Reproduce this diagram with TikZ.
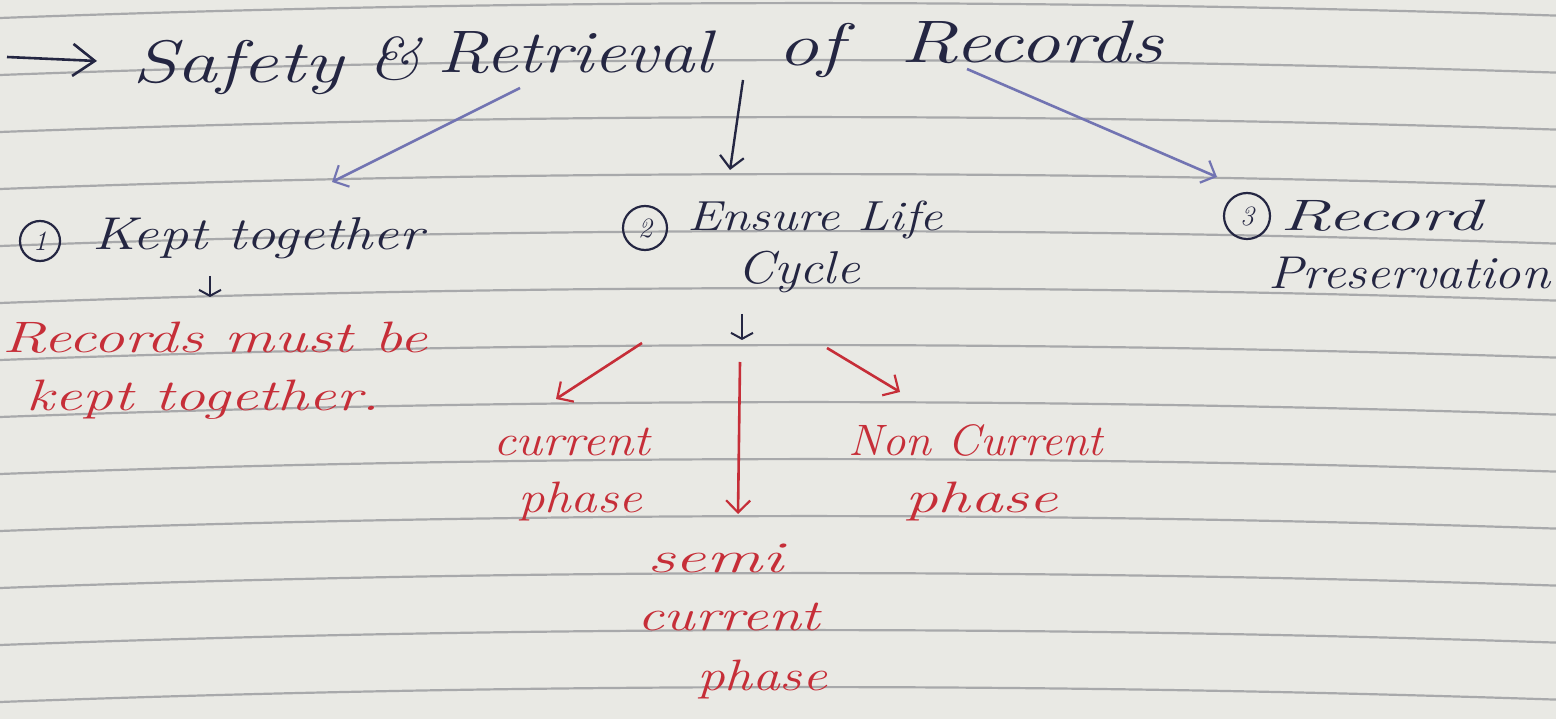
\documentclass[tikz,border=0pt]{standalone}
\usepackage{fontspec}
\usepackage{graphicx}
\usetikzlibrary{arrows.meta}
\definecolor{paper}{RGB}{233,233,228}
\definecolor{rule}{RGB}{168,169,171}
\definecolor{navy}{RGB}{36,38,66}
\definecolor{redink}{RGB}{198,46,56}
\definecolor{lavender}{RGB}{114,116,178}
% hand-lettering: italic at a given size, stretched to a given width
\newcommand{\handsize}[1]{\fontsize{#1}{#1}\selectfont\itshape}
\newcommand{\fitw}[2]{\resizebox{#1pt}{\height}{#2}}
\tikzset{
  ruling/.style={rule, line width=2.2pt},
  word/.style={anchor=base west, inner sep=0pt, outer sep=0pt},
  titleword/.style={word, navy, font=\handsize{60}},
  itemword/.style={word, navy, font=\handsize{46}},
  noteword/.style={word, redink, font=\handsize{44}},
  numcircle/.style={circle, draw=navy, line width=2.2pt, navy, inner sep=0pt,
    minimum size=#1pt, font=\handsize{28}},
  tip/.style={-{Straight Barb[length=12pt, width=24pt, line width=2.2pt]}},
  bigtip/.style={-{Straight Barb[length=22pt, width=32pt, line width=2.6pt]}},
  smalltip/.style={-{Straight Barb[length=6pt, width=22pt, line width=2pt]}},
  navyarrow/.style={tip, navy, line width=2.4pt},
  lavarrow/.style={tip, lavender, line width=2.6pt},
  redarrow/.style={tip, redink, line width=2.6pt},
}
\begin{document}
\begin{tikzpicture}[x=1pt, y=-1pt]
  % sheet of ruled paper
  \useasboundingbox (0,0) rectangle (1556,719);
  \fill[paper] (0,0) rectangle (1556,719);
  \foreach \n in {0,...,12} {
    \pgfmathsetmacro\yb{3+57*\n}
    \draw[ruling] (0,\yb+15) .. controls (519,\yb-4.2) and (1037,\yb-4.7) .. (1556,\yb+12.6);
  }

  % heading
  \coordinate (lead) at (7,57);
  \node[titleword] (t1) at (132,83) {\fitw{211}{Safety}};
  \node[titleword] (t2) at (368,80) {\fitw{52}{\&}};
  \node[titleword] (t3) at (437,73) {\fitw{276}{Retrieval}};
  \node[titleword] (t4) at (777,66) {\fitw{66}{of}};
  \node[titleword] (t5) at (900,63) {\fitw{263}{Records}};
  \draw[bigtip, navy, line width=2.6pt] (lead) -- ([shift={(-35,-22)}]t1.base west);

  % three branches
  \node[numcircle=40] (n1) at (40,241) {1};
  \node[itemword] (i1) at (92,250) {\fitw{331}{Kept together}};
  \node[numcircle=44] (n2) at (645,228) {2};
  \node[itemword, font=\handsize{42}] (i2a) at (687,231) {\fitw{256}{Ensure Life}};
  \node[itemword] (i2b) at (737,284) {\fitw{123}{Cycle}};
  \node[numcircle=46] (n3) at (1247,216) {3};
  \node[itemword, font=\handsize{44}] (i3a) at (1280,231) {\fitw{202}{Record}};
  \node[itemword] (i3b) at (1268,289) {\fitw{282}{Preservation}};

  \draw[lavarrow] ([shift={(83,15)}]t3.base west) -- ([shift={(240,-68)}]i1.base west);
  \draw[navyarrow] ([shift={(-34,14)}]t4.base west) -- ([shift={(43,-61)}]i2a.base west);
  \draw[lavarrow] ([shift={(67,6)}]t5.base west) -- ([shift={(-63,-54)}]i3a.base west);

  % branch 1 note
  \node[noteword] (r1a) at (2,353) {\fitw{425}{Records must be}};
  \node[noteword] (r1b) at (27,410) {\fitw{353}{kept together.}};
  \draw[smalltip, navy, line width=2pt] ([shift={(118,26)}]i1.base west) -- ([shift={(208,-56)}]r1a.base west);

  % branch 2 phases
  \node[noteword] (r2a) at (493,455) {\fitw{157}{current}};
  \node[noteword] (r2b) at (518,512) {\fitw{124}{phase}};
  \node[noteword] (r3a) at (647,572) {\fitw{136}{semi}};
  \node[noteword] (r3b) at (637,630) {\fitw{183}{current}};
  \node[noteword] (r3c) at (697,690) {\fitw{130}{phase}};
  \node[noteword] (r4a) at (848,455) {\fitw{255}{Non Current}};
  \node[noteword] (r4b) at (905,512) {\fitw{153}{phase}};
  \draw[smalltip, navy, line width=2pt] ([shift={(5,30)}]i2b.base west) -- ([shift={(5,56)}]i2b.base west);
  \draw[redarrow] ([shift={(149,-112)}]r2a.base west) -- ([shift={(63,-56)}]r2a.base west);
  \draw[redarrow] ([shift={(93,-210)}]r3a.base west) -- ([shift={(91,-58)}]r3a.base west);
  \draw[redarrow] ([shift={(-21,-107)}]r4a.base west) -- ([shift={(52,-63)}]r4a.base west);
\end{tikzpicture}
\end{document}
